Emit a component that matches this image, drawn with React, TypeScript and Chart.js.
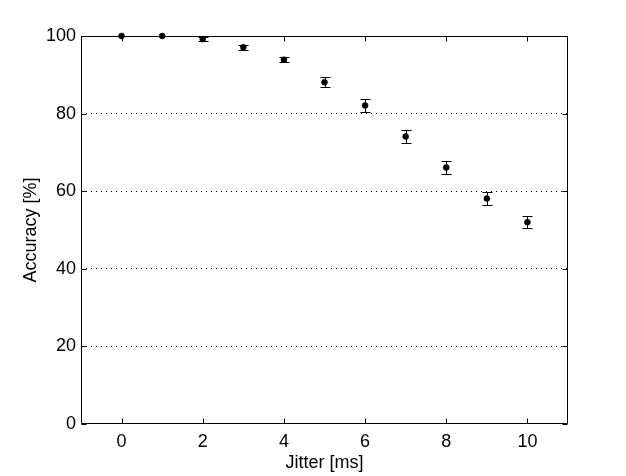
import React, { useEffect, useRef } from "react";
import { Chart, registerables } from "chart.js";

Chart.register(...registerables);

const jitterMs = [0, 1, 2, 3, 4, 5, 6, 7, 8, 9, 10];
const accuracy = [100, 100, 99.2, 97.1, 93.9, 88.1, 82.1, 74.1, 66.1, 58.1, 52.0];
const accuracyErr = [0, 0, 0.6, 0.7, 0.7, 1.3, 1.7, 1.7, 1.7, 1.7, 1.5];
const xTicks = [0, 2, 4, 6, 8, 10];
const yTicks = [0, 20, 40, 60, 80, 100];

const FONT = "'Liberation Sans', Arial, Helvetica, sans-serif";

const errorBarPlugin = {
  id: "errorBars",
  afterDatasetsDraw(chart: any) {
    const ctx = chart.ctx;
    const xs = chart.scales.x;
    const ys = chart.scales.y;
    ctx.save();
    ctx.strokeStyle = "#000";
    ctx.lineWidth = 1;
    jitterMs.forEach((xv, i) => {
      const e = accuracyErr[i];
      if (!e) return;
      const px = Math.round(xs.getPixelForValue(xv)) + 0.5;
      const top = Math.round(ys.getPixelForValue(accuracy[i] + e)) + 0.5;
      const bot = Math.round(ys.getPixelForValue(accuracy[i] - e)) + 0.5;
      ctx.beginPath();
      ctx.moveTo(px, top);
      ctx.lineTo(px, bot);
      ctx.moveTo(px - 5, top);
      ctx.lineTo(px + 5, top);
      ctx.moveTo(px - 5, bot);
      ctx.lineTo(px + 5, bot);
      ctx.stroke();
    });
    ctx.restore();
  },
};

const framePlugin = {
  id: "matlabFrame",
  afterDraw(chart: any) {
    const ctx = chart.ctx;
    const { left, right, top, bottom } = chart.chartArea;
    const xs = chart.scales.x;
    const ys = chart.scales.y;
    const L = Math.round(left) + 0.5;
    const R = Math.round(right) - 0.5;
    const T = Math.round(top) + 0.5;
    const B = Math.round(bottom) - 0.5;
    ctx.save();
    ctx.strokeStyle = "#000";
    ctx.lineWidth = 1;
    ctx.beginPath();
    ctx.rect(L, T, R - L, B - T);
    const tl = 5;
    xTicks.forEach((v) => {
      const p = Math.round(xs.getPixelForValue(v)) + 0.5;
      ctx.moveTo(p, B);
      ctx.lineTo(p, B - tl);
      ctx.moveTo(p, T);
      ctx.lineTo(p, T + tl);
    });
    yTicks.forEach((v) => {
      const p = Math.round(ys.getPixelForValue(v)) + 0.5;
      ctx.moveTo(L, p);
      ctx.lineTo(L + tl, p);
      ctx.moveTo(R, p);
      ctx.lineTo(R - tl, p);
    });
    ctx.stroke();
    ctx.restore();
  },
};

export default function App() {
  const ref = useRef<HTMLCanvasElement | null>(null);
  useEffect(() => {
    if (!ref.current) return;
    const chart = new Chart(ref.current, {
      type: "scatter",
      data: {
        datasets: [
          {
            label: "Accuracy",
            data: jitterMs.map((x, i) => ({ x, y: accuracy[i] })),
            backgroundColor: "#000",
            borderColor: "#000",
            pointRadius: 3,
            borderWidth: 0.5,
            pointStyle: "circle",
            showLine: false,
            clip: false as any,
          },
        ],
      },
      options: {
        responsive: false,
        animation: false,
        events: [],
        layout: { padding: { top: 36, right: 58, left: 0, bottom: 0 } },
        plugins: { legend: { display: false }, tooltip: { enabled: false } },
        scales: {
          x: {
            type: "linear",
            min: -1,
            max: 11,
            afterFit(scale: any) {
              scale.height = 52;
            },
            afterBuildTicks(scale: any) {
              scale.ticks = xTicks.map((v) => ({ value: v }));
            },
            grid: { display: false, drawTicks: false },
            border: { display: false },
            ticks: {
              color: "#000",
              padding: 7,
              font: { family: FONT, size: 18 },
              maxRotation: 0,
            },
            title: {
              display: true,
              text: "Jitter [ms]",
              color: "#000",
              font: { family: FONT, size: 18 },
              padding: { top: 0, bottom: 2 },
            },
          },
          y: {
            type: "linear",
            min: 0,
            max: 100,
            afterFit(scale: any) {
              scale.width = 81;
            },
            afterBuildTicks(scale: any) {
              scale.ticks = yTicks.map((v) => ({ value: v }));
            },
            grid: {
              display: true,
              drawTicks: false,
              color: (c: any) =>
                c.tick && (c.tick.value === 0 || c.tick.value === 100) ? "rgba(0,0,0,0)" : "#000",
              lineWidth: 1,
            },
            border: { display: false, dash: [1, 4] },
            ticks: {
              color: "#000",
              padding: 5,
              font: { family: FONT, size: 18 },
            },
            title: {
              display: true,
              text: "Accuracy [%]",
              color: "#000",
              font: { family: FONT, size: 18 },
              padding: { top: 20, bottom: 0 },
            },
          },
        },
      },
      plugins: [errorBarPlugin, framePlugin],
    });
    return () => chart.destroy();
  }, []);
  return (
    <div style={{ position: "fixed", left: 0, top: 0, width: 626, height: 476, background: "#fff" }}>
      <canvas ref={ref} width={626} height={476} style={{ display: "block" }} />
    </div>
  );
}
